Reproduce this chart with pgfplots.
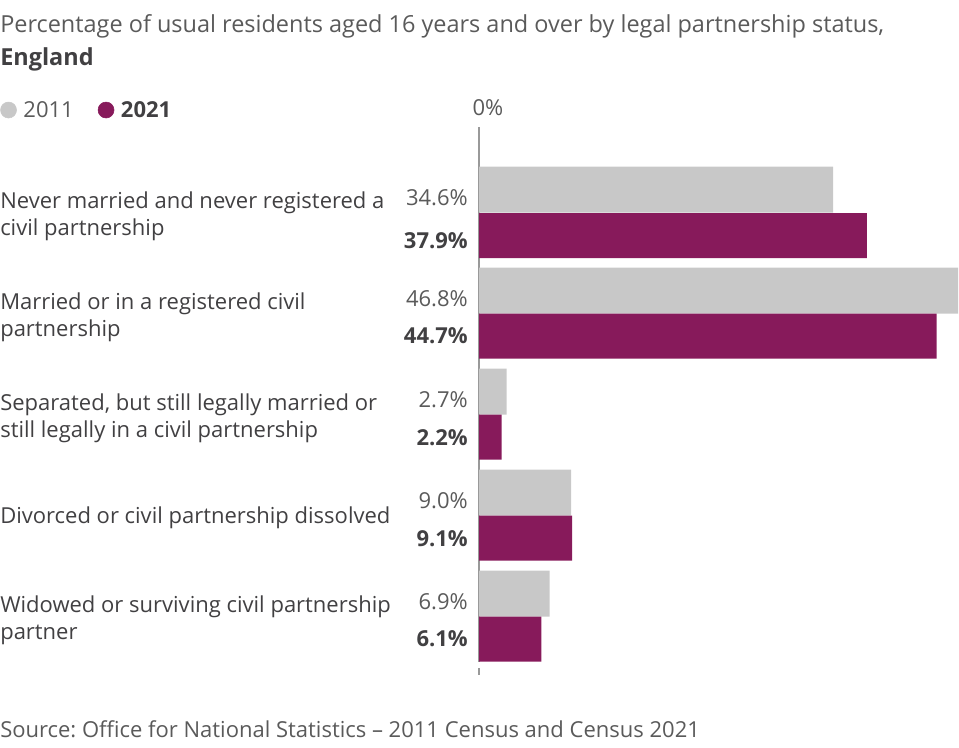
\documentclass[border=0pt]{standalone}
\usepackage{fontspec}
\setmainfont{Open Sans}
\usepackage{pgfplots}
\pgfplotsset{compat=1.18}
\definecolor{g11}{HTML}{C8C8C8}
\definecolor{p21}{HTML}{871A5B}
\definecolor{txt}{HTML}{414042}
\definecolor{lbl}{HTML}{5A5A5A}
\frenchspacing
\begin{document}
\begin{tikzpicture}[x=0.75pt,y=-0.75pt]
\path[use as bounding box] (0,0) rectangle (959,748);
\tikzset{fs/.style={font=\fontsize{16.5}{20.25}\selectfont},
         ft/.style={font=\fontsize{17.6}{21}\selectfont}}
\node[anchor=west, text=lbl, ft, inner sep=0pt] at (0,26) {Percentage of usual residents aged 16 years and over by legal partnership status,};
\node[anchor=west, text=txt, ft, inner sep=0pt] at (0,59) {\bfseries England};
\node[anchor=west, text=lbl, fs, inner sep=0pt] at (0,729) {Source: Office for National Statistics – 2011 Census and Census 2021};
% category labels
\foreach \yy/\t in {216/{Never married and never registered a\\civil partnership},
                    317/{Married or in a registered civil\\partnership},
                    418/{Separated, but still legally married or\\still legally in a civil partnership},
                    518/{Divorced or civil partnership dissolved},
                    620/{Widowed or surviving civil partnership\\partner}}{
  \node[anchor=west, align=left, text=txt, fs, inner sep=0pt] at (0,\yy) {\t};
}
% value labels
\foreach \yy/\v in {198/34.6, 299/46.8, 400/2.7, 501/9.0, 602/6.9}{
  \node[anchor=east, text=lbl, fs, inner sep=0pt] at (468,\yy) {\v\%};
}
\foreach \yy/\v in {241/37.9, 336/44.7, 438/2.2, 539/9.1, 639/6.1}{
  \node[anchor=east, text=txt, fs, inner sep=0pt] at (468,\yy) {\bfseries\v\%};
}
\node[anchor=center, text=lbl, fs, inner sep=0pt] at (488,108) {0\%};
\begin{axis}[at={(359.25pt,-90pt)}, anchor=north west,
  width=359.25pt, height=427.5pt, scale only axis,
  xmin=0, xmax=46.8, ymin=120, ymax=690, y dir=reverse,
  hide axis, clip=false,
  legend style={draw=none, fill=none, at={(-1.0,1.0175)}, anchor=west,
    legend columns=2, inner sep=0pt, text=txt,
    font=\fontsize{16.5}{20}\selectfont,
    /tikz/every odd column/.append style={column sep=3pt},
    /tikz/every even column/.append style={column sep=16pt}},
  legend image code/.code={\fill[#1] (5pt,0pt) circle (6pt);},
]
\addplot[forget plot, color=gray!80, line width=1.1pt] coordinates {(0,127) (0,662)};
\addplot[forget plot, color=gray!80, line width=1.1pt] coordinates {(0,668) (0,675)};
\addplot[forget plot, xbar, bar width=46, bar shift=0, fill=g11, draw=none]
  coordinates {(34.6,189.5) (46.8,290.5) (2.7,391.5) (9.0,492.5) (6.9,593.5)};
\addplot[forget plot, xbar, bar width=45, bar shift=0, fill=p21, draw=none]
  coordinates {(37.9,235.5) (44.7,336) (2.2,437) (9.1,538) (6.1,639)};
\addlegendimage{g11}
\addlegendentry{\color{lbl}2011}
\addlegendimage{p21}
\addlegendentry{\bfseries 2021}
\end{axis}
\end{tikzpicture}
\end{document}
